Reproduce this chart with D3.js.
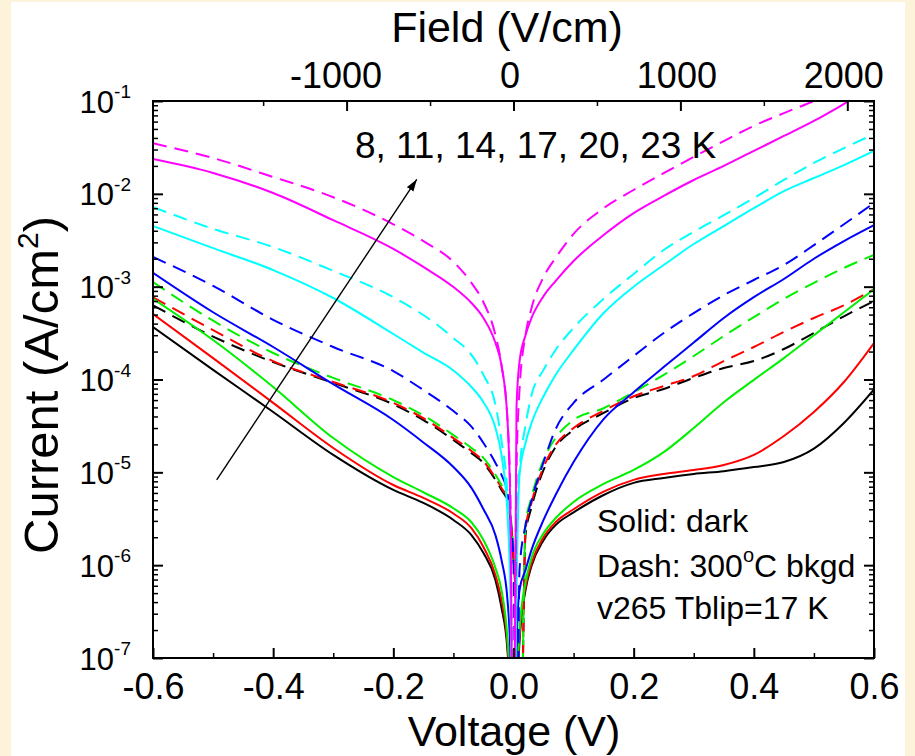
<!DOCTYPE html>
<html>
<head>
<meta charset="utf-8">
<script src="https://cdn.jsdelivr.net/npm/d3@7"></script>
<style>
  body { margin: 0; background: #fdf2da; }
  svg { display: block; font-family: "Liberation Sans", Arial, sans-serif; }
</style>
</head>
<body>
<svg width="915" height="756"></svg>
<script>
// voltage grid (V) shared by all curves
var voltage = [-0.6, -0.5, -0.4, -0.3, -0.2, -0.15, -0.1, -0.07, -0.05, -0.03, -0.02, -0.01, -0.005, 0,
  0.005, 0.01, 0.02, 0.03, 0.05, 0.07, 0.1, 0.15, 0.2, 0.25, 0.3, 0.35, 0.4, 0.45, 0.5, 0.55, 0.6];

// dark current density (A/cm2), solid lines
var dark8  = [3.68e-4, 1.27e-4, 4.46e-5, 1.54e-5, 6.46e-6, 4.68e-6, 3.07e-6, 2.11e-6, 1.35e-6, 6.9e-7, 3.5e-7, 1.2e-7, 3e-8, 1e-9,
  3e-8, 1.5e-7, 5.4e-7, 9.8e-7, 1.86e-6, 2.7e-6, 3.7e-6, 5.7e-6, 7.7e-6, 8.7e-6, 9.6e-6, 1.03e-5, 1.14e-5, 1.29e-5, 1.8e-5, 3.4e-5, 7.8e-5];
var dark11 = [5.08e-4, 1.7e-4, 5.6e-5, 1.83e-5, 7.3e-6, 5.3e-6, 3.6e-6, 2.5e-6, 1.57e-6, 7.8e-7, 4.2e-7, 1.4e-7, 3.5e-8, 1e-9,
  3.5e-8, 1.7e-7, 5.8e-7, 1.05e-6, 2.0e-6, 2.9e-6, 4.0e-6, 6.2e-6, 8.3e-6, 9.6e-6, 1.06e-5, 1.2e-5, 1.54e-5, 2.46e-5, 4.47e-5, 9.4e-5, 2.47e-4];
var dark14 = [7.4e-4, 2.66e-4, 8.3e-5, 2.34e-5, 8.9e-6, 6.1e-6, 4.1e-6, 2.9e-6, 1.87e-6, 9.3e-7, 5.4e-7, 1.6e-7, 4e-8, 1e-9,
  4e-8, 2e-7, 6.5e-7, 1.2e-6, 2.2e-6, 3.2e-6, 4.8e-6, 7.5e-6, 1.06e-5, 1.65e-5, 3.0e-5, 5.7e-5, 9.9e-5, 1.7e-4, 3.0e-4, 5.3e-4, 9.4e-4];
var dark17 = [1.41e-3, 5.3e-4, 2.24e-4, 8.9e-5, 3.66e-5, 2.1e-5, 1.14e-5, 6.8e-6, 4.0e-6, 2.1e-6, 1.14e-6, 4.2e-7, 1e-7, 1e-9,
  1.2e-7, 5.4e-7, 8.9e-7, 1.46e-6, 3.07e-6, 5.7e-6, 1.29e-5, 3.75e-5, 7.3e-5, 1.36e-4, 2.5e-4, 4.6e-4, 7.7e-4, 1.21e-3, 2.0e-3, 3.1e-3, 4.6e-3];
var dark20 = [4.5e-3, 2.6e-3, 1.51e-3, 7.55e-4, 3.09e-4, 1.95e-4, 1.25e-4, 8.3e-5, 5.7e-5, 3.0e-5, 1.54e-5, 3.6e-6, 4.2e-7, 1e-9,
  5e-7, 9.4e-6, 2.07e-5, 3.4e-5, 6.6e-5, 1.12e-4, 2.08e-4, 5.2e-4, 1.0e-3, 1.71e-3, 2.88e-3, 4.5e-3, 7.0e-3, 1.07e-2, 1.48e-2, 2.04e-2, 2.9e-2];
var dark23 = [2.37e-2, 1.68e-2, 1.02e-2, 5.2e-3, 2.55e-3, 1.63e-3, 9.9e-4, 6.67e-4, 4.6e-4, 2.47e-4, 1.43e-4, 3.66e-5, 3.1e-6, 1e-9,
  5e-5, 1.55e-4, 3.0e-4, 4.6e-4, 7.9e-4, 1.15e-3, 1.89e-3, 3.6e-3, 6.2e-3, 9.5e-3, 1.41e-2, 2.0e-2, 2.9e-2, 4.2e-2, 6.1e-2, 9.3e-2, 1.45e-1];

// 300C background current density (A/cm2), dashed lines
var bkgd8  = [6.3e-4, 2.9e-4, 1.54e-4, 9.2e-5, 5.4e-5, 3.66e-5, 2.23e-5, 1.61e-5, 1.26e-5, 8.3e-6, 6.46e-6, 4.8e-6, 3.1e-6, 1.14e-6,
  2.6e-7, 1e-9, 2.1e-6, 4.2e-6, 1.06e-5, 1.87e-5, 2.86e-5, 4.36e-5, 6.3e-5, 7.9e-5, 1.04e-4, 1.33e-4, 1.58e-4, 2.13e-4, 3.17e-4, 4.8e-4, 7.0e-4];
var bkgd11 = [7.7e-4, 3.4e-4, 1.58e-4, 9.4e-5, 5.6e-5, 3.83e-5, 2.34e-5, 1.7e-5, 1.32e-5, 8.7e-6, 6.8e-6, 5.0e-6, 3.2e-6, 1.25e-6,
  3.3e-7, 1e-9, 2.4e-6, 4.7e-6, 1.14e-5, 1.97e-5, 3.0e-5, 4.6e-5, 6.6e-5, 8.5e-5, 1.09e-4, 1.58e-4, 2.24e-4, 3.25e-4, 4.6e-4, 6.3e-4, 9.4e-4];
var bkgd14 = [1.12e-3, 4.3e-4, 1.93e-4, 1.04e-4, 6.0e-5, 4.1e-5, 2.52e-5, 1.83e-5, 1.43e-5, 9.4e-6, 7.3e-6, 5.4e-6, 3.5e-6, 1.53e-6,
  4.2e-7, 1e-9, 2.7e-6, 5.4e-6, 1.36e-5, 2.34e-5, 3.66e-5, 4.9e-5, 7.3e-5, 1.12e-4, 1.79e-4, 2.94e-4, 4.7e-4, 7.4e-4, 1.1e-3, 1.59e-3, 2.2e-3];
var bkgd17 = [2.09e-3, 1.02e-3, 4.4e-4, 2.24e-4, 1.23e-4, 7.7e-5, 4.57e-5, 3.1e-5, 2.07e-5, 1.26e-5, 9.4e-6, 6.0e-6, 3.1e-6, 1.1e-6,
  1e-9, 8.9e-7, 2.7e-6, 5.0e-6, 1.29e-5, 2.9e-5, 5.6e-5, 1.0e-4, 1.79e-4, 3.17e-4, 5.2e-4, 8.1e-4, 1.18e-3, 1.71e-3, 2.8e-3, 4.7e-3, 7.96e-3];
var bkgd20 = [7.2e-3, 4.2e-3, 2.67e-3, 1.48e-3, 7.7e-4, 4.95e-4, 2.8e-4, 1.84e-4, 1.12e-4, 5.3e-5, 2.2e-5, 5.7e-6, 1.1e-6, 1e-9,
  3.1e-6, 1.06e-5, 3.2e-5, 6.8e-5, 1.27e-4, 2.08e-4, 3.6e-4, 7.4e-4, 1.37e-3, 2.48e-3, 3.9e-3, 5.9e-3, 9.0e-3, 1.41e-2, 2.15e-2, 3.1e-2, 4.4e-2];
var bkgd23 = [3.5e-2, 2.43e-2, 1.52e-2, 9.2e-3, 4.7e-3, 3.1e-3, 1.85e-3, 1.1e-3, 6.8e-4, 3.0e-4, 1.43e-4, 3.66e-5, 4.6e-6, 1e-9,
  1.06e-5, 7.7e-5, 3.0e-4, 5.9e-4, 1.27e-3, 2.04e-3, 3.7e-3, 7.0e-3, 1.1e-2, 1.67e-2, 2.5e-2, 3.7e-2, 5.4e-2, 7.4e-2, 1.0e-1, 1.38e-1, 1.86e-1];

var temps  = [8, 11, 14, 17, 20, 23];
var colors = ["#000000", "#ff0000", "#00f000", "#0000ff", "#00ffff", "#ff00ff"];
var darkSeries = [dark8, dark11, dark14, dark17, dark20, dark23];
var bkgdSeries = [bkgd8, bkgd11, bkgd14, bkgd17, bkgd20, bkgd23];

// tick labels
var xTickValues = [-0.6, -0.4, -0.2, 0, 0.2, 0.4, 0.6];
var xMinorValues = [-0.5, -0.3, -0.1, 0.1, 0.3, 0.5];
var fieldTickValues = [-1000, 0, 1000, 2000];
var fieldMinorValues = [-1500, -500, 500, 1500];
var yExponents = [-7, -6, -5, -4, -3, -2, -1];

// annotation (in data units)
var arrowFrom = [-0.494, 8.3e-6], arrowTo = [-0.161, 1.43e-2];
var tempLabelAt = [-0.264, 2.45e-2];
var noteAt = [0.139, 2.27e-6];
var noteLines = ["Solid: dark", "Dash: 300", "v265 Tblip=17 K"];

var svg = d3.select("svg"),
    width = +svg.attr("width"),
    height = +svg.attr("height");

var plotL = 153, plotR = 874, plotT = 101, plotB = 658;

var x = d3.scaleLinear().domain([-0.6, 0.6]).range([plotL, plotR]);
var xField = d3.scaleLinear().domain([-2160, 2160]).range([plotL, plotR]);
var y = d3.scaleLog().domain([1e-7, 1e-1]).range([plotB, plotT]);

// background: cream border + white panel
svg.append("rect").attr("width", width).attr("height", height).attr("fill", "#fdf2da");
svg.append("rect").attr("x", 11).attr("y", 2).attr("width", 894).attr("height", height - 2).attr("fill", "#ffffff");

svg.append("clipPath").attr("id", "plotclip")
  .append("rect").attr("x", plotL).attr("y", plotT).attr("width", plotR - plotL).attr("height", plotB - plotT);

var line = d3.line()
    .x(function(d) { return x(d[0]); })
    .y(function(d) { return y(d[1]); })
    .curve(d3.curveMonotoneX);

var curves = svg.append("g").attr("clip-path", "url(#plotclip)");

temps.forEach(function(t, i) {
  curves.append("path")
    .datum(voltage.map(function(v, j) { return [v, darkSeries[i][j]]; }))
    .attr("d", line)
    .attr("fill", "none")
    .attr("stroke", colors[i])
    .attr("stroke-width", 2);
  curves.append("path")
    .datum(voltage.map(function(v, j) { return [v, bkgdSeries[i][j]]; }))
    .attr("d", line)
    .attr("fill", "none")
    .attr("stroke", colors[i])
    .attr("stroke-width", 2)
    .attr("stroke-dasharray", "14,8");
});

// minor log ticks
var yMinor = [];
yExponents.slice(0, -1).forEach(function(e) {
  for (var m = 2; m <= 9; m++) yMinor.push(m * Math.pow(10, e));
});
var yMajor = yExponents.map(function(e) { return Math.pow(10, e); });

function styleAxis(g, w) {
  g.select(".domain").remove();
  g.selectAll(".tick line").attr("stroke", "#000").attr("stroke-width", w);
}

svg.append("g").attr("transform", "translate(0," + plotB + ")")
  .call(d3.axisBottom(x).tickValues(xMinorValues).tickSize(-5).tickFormat(""))
  .call(styleAxis, 1.5);
svg.append("g").attr("transform", "translate(0," + plotB + ")")
  .call(d3.axisBottom(x).tickValues(xTickValues).tickSize(-10).tickPadding(15))
  .call(styleAxis, 2)
  .selectAll("text").attr("font-size", 36).attr("fill", "#000")
  .attr("font-family", "'Liberation Sans', Arial, sans-serif")
  .text(function(d) { return d.toFixed(1); });

svg.append("g").attr("transform", "translate(0," + plotT + ")")
  .call(d3.axisTop(xField).tickValues(fieldMinorValues).tickSize(-5).tickFormat(""))
  .call(styleAxis, 1.5);
svg.append("g").attr("transform", "translate(0," + plotT + ")")
  .call(d3.axisTop(xField).tickValues(fieldTickValues).tickSize(-10).tickPadding(13))
  .call(styleAxis, 2)
  .selectAll("text").attr("font-size", 36).attr("fill", "#000")
  .attr("font-family", "'Liberation Sans', Arial, sans-serif")
  .attr("dx", function(d) { return d < 0 ? -11 : -4; })
  .text(function(d) { return String(d); });

[[plotL, d3.axisLeft], [plotR, d3.axisRight]].forEach(function(a) {
  svg.append("g").attr("transform", "translate(" + a[0] + ",0)")
    .call(a[1](y).tickValues(yMinor).tickSize(-5).tickFormat(""))
    .call(styleAxis, 1.5);
  svg.append("g").attr("transform", "translate(" + a[0] + ",0)")
    .call(a[1](y).tickValues(yMajor).tickSize(-10).tickFormat(""))
    .call(styleAxis, 2);
});

// frame
svg.append("rect")
  .attr("x", plotL).attr("y", plotT).attr("width", plotR - plotL).attr("height", plotB - plotT)
  .attr("fill", "none").attr("stroke", "#000").attr("stroke-width", 2);

// log labels 10^n
var yLab = svg.append("g").attr("font-size", 31).attr("fill", "#000");
yExponents.forEach(function(e) {
  var t = yLab.append("text")
    .attr("x", 131)
    .attr("y", y(Math.pow(10, e)) + 11.5)
    .attr("text-anchor", "end");
  t.append("tspan").text("10");
  t.append("tspan").attr("font-size", 19).attr("dy", -14.5).text(String(e));
});

// axis titles
svg.append("text").attr("x", 514).attr("y", 746).attr("text-anchor", "middle")
  .attr("font-size", 43).text("Voltage (V)");
svg.append("text").attr("x", 507).attr("y", 42).attr("text-anchor", "middle")
  .attr("font-size", 43).text("Field (V/cm)");
var yt = svg.append("text")
  .attr("transform", "translate(58,385) rotate(-90)")
  .attr("text-anchor", "middle")
  .attr("font-size", 49);
yt.append("tspan").text("Current (A/cm");
yt.append("tspan").attr("font-size", 30).attr("dy", -20).text("2");
yt.append("tspan").attr("dy", 20).text(")");

// temperature arrow
svg.append("defs").append("marker")
  .attr("id", "arrowhead")
  .attr("markerUnits", "userSpaceOnUse")
  .attr("markerWidth", 12).attr("markerHeight", 8)
  .attr("refX", 12).attr("refY", 4)
  .attr("orient", "auto")
  .append("path").attr("d", "M0,0 L12,4 L0,8 z").attr("fill", "#000");

svg.append("line")
  .attr("x1", x(arrowFrom[0])).attr("y1", y(arrowFrom[1]))
  .attr("x2", x(arrowTo[0])).attr("y2", y(arrowTo[1]))
  .attr("stroke", "#000").attr("stroke-width", 1.4)
  .attr("marker-end", "url(#arrowhead)");

svg.append("text")
  .attr("x", x(tempLabelAt[0])).attr("y", y(tempLabelAt[1]))
  .attr("font-size", 37)
  .text(temps.join(", ") + " K");

// note block
var note = svg.append("g").attr("font-size", 32);
note.append("text").attr("x", x(noteAt[0])).attr("y", y(noteAt[1])).text(noteLines[0]);
var n2 = note.append("text").attr("x", x(noteAt[0])).attr("y", y(noteAt[1]) + 45);
n2.append("tspan").text(noteLines[1]);
n2.append("tspan").attr("font-size", 20).attr("dy", -15).text("o");
n2.append("tspan").attr("dy", 15).text("C bkgd");
note.append("text").attr("x", x(noteAt[0])).attr("y", y(noteAt[1]) + 87).text(noteLines[2]);
</script>
</body>
</html>
